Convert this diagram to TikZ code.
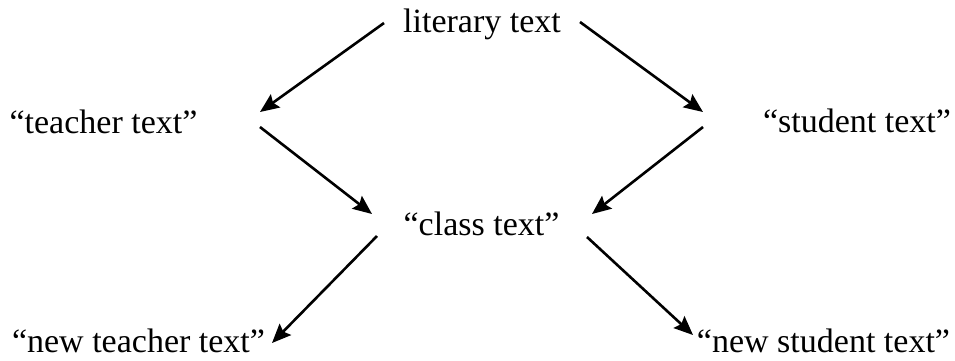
\documentclass[tikz,border=0pt]{standalone}
\usepackage{fontspec}
\setmainfont{Liberation Serif}
\usetikzlibrary{arrows.meta}
\begin{document}
\begin{tikzpicture}[x=1pt,y=-1pt,
  lbl/.style={inner sep=0pt,anchor=base,font=\fontsize{34}{40}\selectfont},
  arr/.style={line width=2.6pt,-{Stealth[length=19pt,width=16pt,inset=3pt]}}]
\useasboundingbox (0,0) rectangle (955,360);
\node[lbl] (lit) at (482,32) {literary text};
\node[lbl] (tea) at (103.5,133) {“teacher text”};
\node[lbl] (stu) at (857,132) {“student text”};
\node[lbl] (cls) at (481.5,235) {“class text”};
\node[lbl] (ntea) at (138.5,352) {“new teacher text”};
\node[lbl] (nstu) at (823.5,352) {“new student text”};
% arrow end points
\coordinate (litL) at (384,23);
\coordinate (litR) at (580,22);
\coordinate (teaIn) at (260,112);
\coordinate (teaOut) at (260,127);
\coordinate (stuIn) at (703,112);
\coordinate (stuOut) at (703,127);
\coordinate (clsInL) at (372,214);
\coordinate (clsInR) at (592,214);
\coordinate (clsOutL) at (377,236);
\coordinate (clsOutR) at (587,237);
\coordinate (nteaIn) at (272,343);
\coordinate (nstuIn) at (693,335);
\draw[arr] (litL) -- (teaIn);
\draw[arr] (litR) -- (stuIn);
\draw[arr] (teaOut) -- (clsInL);
\draw[arr] (stuOut) -- (clsInR);
\draw[arr] (clsOutL) -- (nteaIn);
\draw[arr] (clsOutR) -- (nstuIn);
\end{tikzpicture}
\end{document}
